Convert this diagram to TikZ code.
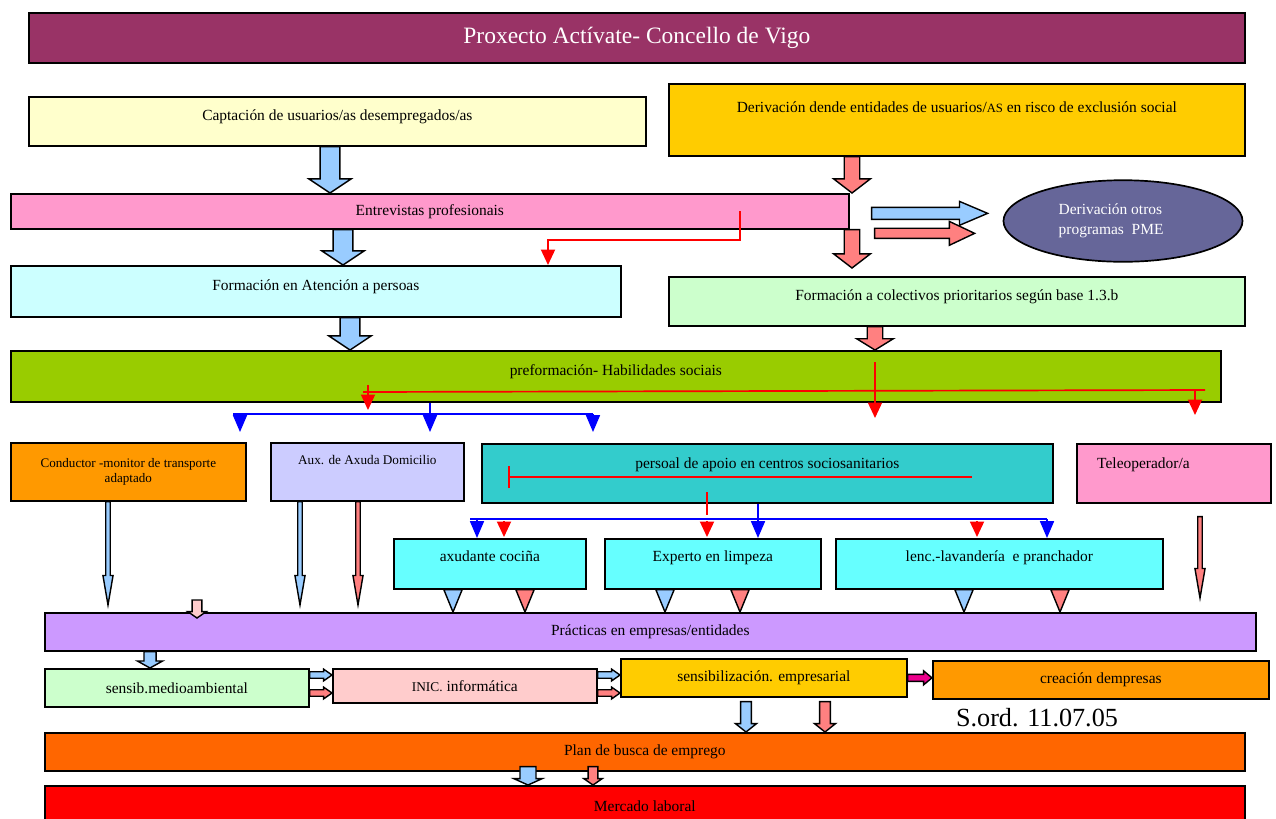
\documentclass[tikz,border=0pt]{standalone}
\usepackage{fontspec}
\setmainfont{Liberation Serif}
\usepackage{tikz}
\usetikzlibrary{arrows.meta}
\usetikzlibrary{calc}
\usetikzlibrary{positioning}
\usetikzlibrary{shapes.geometric}
\definecolor{titlec}{HTML}{993366}
\definecolor{captc}{HTML}{FFFFCC}
\definecolor{derc}{HTML}{FFCC00}
\definecolor{entrec}{HTML}{FF99CC}
\definecolor{otrosc}{HTML}{666699}
\definecolor{formac}{HTML}{CCFFFF}
\definecolor{formcc}{HTML}{CCFFCC}
\definecolor{prefc}{HTML}{99CC00}
\definecolor{orangec}{HTML}{FF9900}
\definecolor{auxc}{HTML}{CCCCFF}
\definecolor{persc}{HTML}{33CCCC}
\definecolor{subc}{HTML}{66FFFF}
\definecolor{pracc}{HTML}{CC99FF}
\definecolor{inicc}{HTML}{FFCCCC}
\definecolor{planc}{HTML}{FF6600}
\definecolor{arrblue}{HTML}{99CCFF}
\definecolor{arrred}{HTML}{FF8080}
\definecolor{arrpink}{HTML}{FFCCCC}
\tikzset{box/.style = {draw, line width = 1.2pt, anchor = north west, font = \fontsize{11}{13}\selectfont}}
\tikzset{boxsize/.style args = {#1/#2}{minimum width = #1*0.025cm, minimum height = #2*0.025cm}}
\tikzset{textup/.style = {text height = 8pt, text depth = #1}}
\tikzset{barrow/.style = {draw = black, line width = 1pt, line join = miter}}
\tikzset{redline/.style = {red, line width = 1.2pt}}
\tikzset{blueline/.style = {blue, line width = 1pt}}
\tikzset{redarr/.style = {redline, -{Triangle[width = 10pt, length = 11pt]}}}
\tikzset{bluearr/.style = {blueline, -{Triangle[width = 10pt, length = 12pt]}}}
\newcommand\bdown[6]{\filldraw [barrow, fill = #1] let \p1 = (#5), \p2 = (#6) in
    (\x1-#2, \y1) -- (\x1+#2, \y1) -- (\x1+#2, \y2+#4) -- (\x1+#3, \y2+#4) -- (\x1, \y2)
    -- (\x1-#3, \y2+#4) -- (\x1-#2, \y2+#4) -- cycle;}
\newcommand\bright[6]{\filldraw [barrow, fill = #1] let \p1 = (#5), \p2 = (#6) in
    (\x1, \y1+#2) -- (\x2-#4, \y1+#2) -- (\x2-#4, \y1+#3) -- (\x2, \y1)
    -- (\x2-#4, \y1-#3) -- (\x2-#4, \y1-#2) -- (\x1, \y1-#2) -- cycle;}
\newcommand\tridown[3]{\filldraw [barrow, fill = #1] let \p1 = (#2), \p2 = (#3) in
    (\x1-6.5pt, \y1) -- (\x1+6.5pt, \y1) -- (\x1, \y2) -- cycle;}
\begin{document}
\begin{tikzpicture}[x = 0.025cm, y = -0.025cm]
    \useasboundingbox (0, 0) rectangle (1276, 818);
    \node [box, boxsize = 1216/50, fill = titlec, text = white, font = \fontsize{16.7}{20}\selectfont] (title) at (28, 12) {Proxecto Actívate- Concello de Vigo};
    \node [box, boxsize = 617/49, fill = captc, textup = 9.5pt] (capt) at (28, 96) {Captación de usuarios/as desempregados/as};
    \node [box, boxsize = 576/72, fill = derc, textup = 18pt] (der) at (668, 83) {Derivación dende entidades de usuarios/{\fontsize{9}{11}\selectfont AS} en risco de exclusión social};
    \node [box, boxsize = 838/35, fill = entrec] (entre) at (10, 193) {Entrevistas profesionais};
    \node [ellipse, draw, line width = 1.2pt, fill = otrosc, text = white, minimum width = 170pt, minimum height = 58pt, align = left, font = \fontsize{11}{14}\selectfont] (otros) at (1123, 221) {Derivación otros\kern17pt\\programas\ \ PME\kern17pt};
    \node [box, boxsize = 610/51, fill = formac, textup = 9.5pt] (forma) at (10, 265) {Formación en Atención a persoas};
    \node [box, boxsize = 576/49, fill = formcc, textup = 9.5pt] (formc) at (668, 276) {Formación a colectivos prioritarios según base 1.3.b};
    \node [box, boxsize = 1210/51, fill = prefc, textup = 9.5pt] (pref) at (10, 350) {preformación- Habilidades sociais};
    \node [box, boxsize = 235/58, fill = orangec, align = center, font = \fontsize{9.3}{11.3}\selectfont] (cond) at (10, 442) {Conductor -monitor de transporte\\adaptado};
    \node [box, boxsize = 193/58, fill = auxc, font = \fontsize{9.4}{11}\selectfont, textup = 18pt] (aux) at (270, 442) {Aux. de Axuda Domicilio};
    \node [box, boxsize = 571/59, fill = persc, textup = 15pt] (pers) at (481, 443) {persoal de apoio en centros sociosanitarios};
    \node [box, boxsize = 194/59, fill = entrec, textup = 15pt, inner xsep = 14pt, text width = 109pt, align = left] (tele) at (1076, 443) {Teleoperador/a};
    \node [box, boxsize = 192/50, fill = subc, textup = 11pt] (cocina) at (393, 538) {axudante cociña};
    \node [box, boxsize = 216/50, fill = subc, textup = 11pt] (limpeza) at (604, 538) {Experto en limpeza};
    \node [box, boxsize = 327/50, fill = subc, textup = 11pt] (lenc) at (835, 538) {lenc.-lavandería\ \ e pranchador};
    \node [box, boxsize = 1211/38, fill = pracc] (prac) at (44, 612) {Prácticas en empresas/entidades};
    \node [box, boxsize = 264/38, fill = formcc] (sensib) at (44, 668) {sensib.medioambiental};
    \node [box, boxsize = 264/34, fill = inicc] (inic) at (332, 668) {{\fontsize{9.5}{11}\selectfont INIC.} informática};
    \node [box, boxsize = 286/38, fill = derc] (sensemp) at (620, 658) {sensibilización. empresarial};
    \node [box, boxsize = 336/38, fill = orangec] (creac) at (932, 660) {creación dempresas};
    \node [font = \fontsize{18.6}{22}\selectfont] (sord) at (1037, 718) {S.ord. 11.07.05};
    \node [box, boxsize = 1200/38, fill = planc] (plan) at (44, 732) {Plan de busca de emprego};
    \node [box, boxsize = 1200/40, fill = red] (merc) at (44, 785) {Mercado laboral};
    \bdown{arrblue}{7pt}{15pt}{10pt}{330,0 |- capt.south}{330,0 |- entre.north}
    \bdown{arrblue}{7pt}{15pt}{10pt}{343,0 |- entre.south}{343,0 |- forma.north}
    \bdown{arrblue}{7pt}{15pt}{10pt}{350,0 |- forma.south}{350,0 |- pref.north}
    \bdown{arrred}{5.5pt}{13pt}{10pt}{852,0 |- der.south}{852,0 |- entre.north}
    \bdown{arrred}{5.5pt}{13pt}{10pt}{852,0 |- entre.south}{$(852,0 |- formc.north) + (0, -8)$}
    \bdown{arrred}{5.5pt}{13pt}{8pt}{875,0 |- formc.south}{875,0 |- pref.north}
    \bright{arrblue}{4.3pt}{8.5pt}{20pt}{$(entre.east) + (22, 2)$}{$(otros.west) + (-15, 0)$}
    \bright{arrred}{3.6pt}{8.5pt}{18pt}{$(entre.east) + (25, 22)$}{$(otros.west) + (-28, 0)$}
    \draw [redarr] (740,0 |- entre.center) -- (740, 240) -| (548,0 |- forma.north);
    \draw [redline] (363, 392) -- (1205, 390);
    \draw [redarr] (368, 385) -- (368, 410);
    \draw [redarr] (875, 362) -- (875, 418);
    \draw [redarr] (1195, 390) -- (1195, 415);
    \draw [blueline] (430,0 |- pref.south) -- (430, 414);
    \draw [blueline] (233, 414) -- (593, 414);
    \foreach \x in {240, 430, 593}
        \draw [bluearr] (\x, 414) -- (\x, 432);
    \draw [redline, {Bar[width = 16pt]}-] (508, 477) -- (972, 477);
    \draw [redline] (707, 492) -- (707, 515);
    \foreach \x in {504, 707, 977}
        \draw [redarr] (\x, 521) -- (\x, 537);
    \draw [blueline] (470, 519) -- (1047, 519);
    \draw [bluearr] (477, 519) -- (477,0 |- cocina.north);
    \draw [bluearr] (758,0 |- pers.south) -- (758,0 |- limpeza.north);
    \draw [bluearr] (1047, 519) -- (1047,0 |- lenc.north);
    \bdown{arrblue}{1.6pt}{3.6pt}{21pt}{108,0 |- cond.south}{$(108,0 |- prac.north) + (0, -7)$}
    \bdown{arrblue}{1.6pt}{3.6pt}{21pt}{300,0 |- aux.south}{$(300,0 |- prac.north) + (0, -7)$}
    \bdown{arrred}{1.6pt}{3.6pt}{21pt}{358,0 |- aux.south}{$(358,0 |- prac.north) + (0, -7)$}
    \bdown{arrred}{1.6pt}{3.6pt}{21pt}{$(1200,0 |- tele.south) + (0, 13)$}{$(1200,0 |- prac.north) + (0, -14)$}
    \bdown{arrpink}{3.5pt}{6.5pt}{4.5pt}{$(197,0 |- prac.north) + (0, -12)$}{$(197,0 |- prac.north) + (0, 6)$}
    \foreach \subname/\bx/\rx in {cocina/453/525, limpeza/665/740, lenc/964/1060} {
        \tridown{arrblue}{\bx,0 |- \subname.south}{\bx,0 |- prac.north}
        \tridown{arrred}{\rx,0 |- \subname.south}{\rx,0 |- prac.north}
    }
    \bdown{arrblue}{4.3pt}{9pt}{5pt}{150,0 |- prac.south}{150,0 |- sensib.north}
    \bright{arrblue}{2.3pt}{4.2pt}{6pt}{sensib.east |- 0,675}{inic.west |- 0,675}
    \bright{arrred}{2.3pt}{4.2pt}{6pt}{sensib.east |- 0,693}{inic.west |- 0,693}
    \bright{arrblue}{2.3pt}{4.2pt}{6pt}{inic.east |- 0,675}{sensemp.west |- 0,675}
    \bright{arrred}{2.3pt}{4.2pt}{6pt}{inic.east |- 0,693}{sensemp.west |- 0,693}
    \bright{magenta}{2.5pt}{5pt}{6pt}{sensemp.east}{creac.west}
    \bdown{arrblue}{3.8pt}{7.5pt}{6pt}{$(746,0 |- sensemp.south) + (0, 4)$}{746,0 |- plan.north}
    \bdown{arrred}{3.8pt}{7.5pt}{6pt}{$(825,0 |- sensemp.south) + (0, 4)$}{825,0 |- plan.north}
    \bdown{arrblue}{5.7pt}{10pt}{4.5pt}{$(528,0 |- plan.south) + (0, -5)$}{528,0 |- merc.north}
    \bdown{arrred}{3.5pt}{6.5pt}{4.5pt}{$(593,0 |- plan.south) + (0, -5)$}{593,0 |- merc.north}
\end{tikzpicture}
\end{document}
